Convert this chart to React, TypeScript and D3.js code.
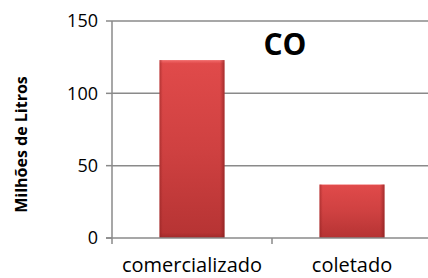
import { useEffect, useRef } from 'react'
import * as d3 from 'd3'

const categories = ['comercializado', 'coletado']
const values = [123, 37]
const yTicks = [0, 50, 100, 150]
const chartTitle = 'CO'
const yLabel = 'Milhões de Litros'

export default function App() {
  const svgRef = useRef<SVGSVGElement>(null)

  useEffect(() => {
    const svg = svgRef.current
    if (!svg) return
    const width = 428
    const height = 278
    const left = 112
    const right = 432
    const top = 21
    const bottom = 238

    d3.select(svg).selectAll('*').remove()
    const root = d3.select(svg).attr('width', width).attr('height', height)

    const x = d3.scaleBand<string>().domain(categories).range([left, right]).paddingInner(0.594).paddingOuter(0.297)
    const y = d3.scaleLinear().domain([0, 150]).range([bottom, top])

    // ── Gradients ─────────────────────────────────────────────
    const defs = root.append('defs')
    const vg = defs.append('linearGradient').attr('id', 'barV').attr('x1', 0).attr('y1', 0).attr('x2', 0).attr('y2', 1)
    vg.append('stop').attr('offset', '0%').attr('stop-color', '#f26c6c')
    vg.append('stop').attr('offset', '2%').attr('stop-color', '#e04a4a')
    vg.append('stop').attr('offset', '50%').attr('stop-color', '#cf4141')
    vg.append('stop').attr('offset', '97%').attr('stop-color', '#b73434')
    vg.append('stop').attr('offset', '100%').attr('stop-color', '#a02a2a')
    const hg = defs.append('linearGradient').attr('id', 'barH').attr('x1', 0).attr('y1', 0).attr('x2', 1).attr('y2', 0)
    hg.append('stop').attr('offset', '0%').attr('stop-color', '#8a1f1f').attr('stop-opacity', 0.5)
    hg.append('stop').attr('offset', '5%').attr('stop-color', '#8a1f1f').attr('stop-opacity', 0)
    hg.append('stop').attr('offset', '93%').attr('stop-color', '#8a1f1f').attr('stop-opacity', 0)
    hg.append('stop').attr('offset', '100%').attr('stop-color', '#7a1a1a').attr('stop-opacity', 0.6)

    // ── Grid ──────────────────────────────────────────────────
    root
      .append('g')
      .selectAll('line')
      .data(yTicks.filter((d) => d > 0))
      .join('line')
      .attr('x1', left)
      .attr('x2', width)
      .attr('y1', (d) => y(d))
      .attr('y2', (d) => y(d))
      .attr('stroke', '#8a8a8a')
      .attr('stroke-width', 1.5)

    // ── Bars ──────────────────────────────────────────────────
    const bars = root.append('g')
    categories.forEach((c, i) => {
      const bx = x(c)!
      const by = y(values[i]!)
      const bh = y(0) - by
      bars.append('rect').attr('x', bx).attr('y', by).attr('width', x.bandwidth()).attr('height', bh).attr('fill', 'url(#barV)')
      bars.append('rect').attr('x', bx).attr('y', by).attr('width', x.bandwidth()).attr('height', bh).attr('fill', 'url(#barH)')
    })

    // ── Axes ──────────────────────────────────────────────────
    const axisColor = '#8a8a8a'
    root.append('line').attr('x1', left).attr('x2', left).attr('y1', top).attr('y2', bottom + 6).attr('stroke', axisColor).attr('stroke-width', 1.5)
    root.append('line').attr('x1', left - 6).attr('x2', width).attr('y1', bottom).attr('y2', bottom).attr('stroke', axisColor).attr('stroke-width', 1.5)

    root
      .append('g')
      .selectAll('line')
      .data(yTicks)
      .join('line')
      .attr('x1', left - 6)
      .attr('x2', left)
      .attr('y1', (d) => y(d))
      .attr('y2', (d) => y(d))
      .attr('stroke', axisColor)
      .attr('stroke-width', 1.5)

    const half = (x.step() * x.paddingInner()) / 2
    root
      .append('g')
      .selectAll('line')
      .data(categories.slice(1))
      .join('line')
      .attr('x1', (d) => x(d)! - half)
      .attr('x2', (d) => x(d)! - half)
      .attr('y1', bottom)
      .attr('y2', bottom + 6)
      .attr('stroke', axisColor)
      .attr('stroke-width', 1.5)

    root
      .append('g')
      .selectAll('text')
      .data(yTicks)
      .join('text')
      .attr('x', left - 14)
      .attr('y', (d) => y(d))
      .attr('dy', '0.36em')
      .attr('text-anchor', 'end')
      .attr('font-family', 'Open Sans, sans-serif')
      .attr('font-size', '18px')
      .attr('fill', '#000')
      .text((d) => String(d))

    root
      .append('g')
      .selectAll('text')
      .data(categories)
      .join('text')
      .attr('x', (d) => x(d)! + x.bandwidth() / 2)
      .attr('y', 272)
      .attr('text-anchor', 'middle')
      .attr('font-family', 'Open Sans, sans-serif')
      .attr('font-size', '20px')
      .attr('fill', '#000')
      .text((d) => d)

    root
      .append('text')
      .attr('transform', `translate(27,${(top + bottom) / 2 + 15}) rotate(-90)`)
      .attr('text-anchor', 'middle')
      .attr('font-family', 'Open Sans, sans-serif')
      .attr('font-weight', 'bold')
      .attr('font-size', '16px')
      .attr('fill', '#000')
      .text(yLabel)

    root
      .append('text')
      .attr('x', 285)
      .attr('y', 55)
      .attr('text-anchor', 'middle')
      .attr('font-family', 'Open Sans, sans-serif')
      .attr('font-weight', 'bold')
      .attr('font-size', '30px')
      .attr('fill', '#000')
      .text(chartTitle)
  }, [])

  return (
    <div style={{ position: 'absolute', left: 0, top: 0, width: 428, height: 278, background: '#fff' }}>
      <svg ref={svgRef} style={{ display: 'block' }} />
    </div>
  )
}
